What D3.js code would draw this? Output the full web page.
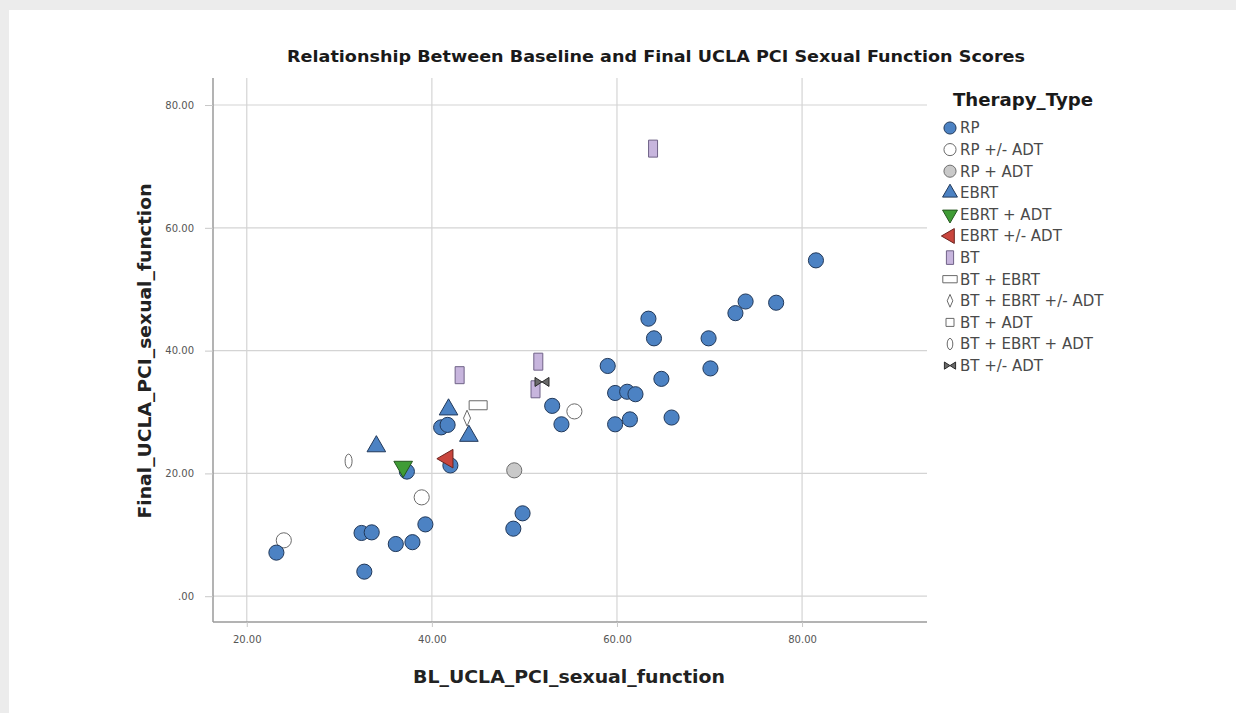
<!DOCTYPE html>
<html lang="en">
<head>
<meta charset="UTF-8">
<title>Baseline vs Final UCLA PCI Sexual Function</title>
<script src="https://cdn.jsdelivr.net/npm/d3@7"></script>
<style>
  body { margin: 0; background: #ececec; }
  svg { display: block; font-family: "DejaVu Sans", "Liberation Sans", Arial, sans-serif; }
</style>
</head>
<body>
<svg id="chart" width="1236" height="713"></svg>
<script>
// categories (legend order)
var therapyTypes = ["RP", "RP +/- ADT", "RP + ADT", "EBRT", "EBRT + ADT", "EBRT +/- ADT",
  "BT", "BT + EBRT", "BT + EBRT +/- ADT", "BT + ADT", "BT + EBRT + ADT", "BT +/- ADT"];

// points (x = baseline, y = final, type = index into therapyTypes)
var blScores    = [24.0, 38.9, 55.4,
  23.2, 32.4, 33.5, 32.7, 36.1, 37.9, 39.3, 37.3, 41.0, 41.7, 42.0, 48.8, 49.8, 53.0, 54.0,
  59.0, 59.8, 61.1, 62.0, 59.8, 61.4, 64.8, 65.9, 63.4, 64.0, 69.9, 70.1, 72.8, 73.9, 77.2, 81.5,
  48.9, 34.0, 41.8, 44.0, 36.9, 41.7, 63.9, 43.0, 51.5, 51.2, 45.0, 43.8, 31.0, 51.9];
var finalScores = [9.1, 16.1, 30.1,
  7.1, 10.3, 10.4, 4.0, 8.5, 8.8, 11.7, 20.3, 27.5, 27.9, 21.3, 11.0, 13.5, 31.0, 28.0,
  37.5, 33.1, 33.3, 32.9, 28.0, 28.8, 35.4, 29.1, 45.2, 42.0, 42.0, 37.1, 46.1, 48.0, 47.8, 54.7,
  20.5, 24.4, 30.4, 26.1, 21.1, 22.4, 72.9, 36.0, 38.2, 33.7, 31.1, 29.0, 22.0, 34.9];
var pointTypes  = [1, 1, 1,
  0, 0, 0, 0, 0, 0, 0, 0, 0, 0, 0, 0, 0, 0, 0,
  0, 0, 0, 0, 0, 0, 0, 0, 0, 0, 0, 0, 0, 0, 0, 0,
  2, 3, 3, 3, 4, 5, 6, 6, 6, 6, 7, 8, 10, 11];

var xTickValues = [20, 40, 60, 80];
var xTickLabels = ["20.00", "40.00", "60.00", "80.00"];
var yTickValues = [0, 20, 40, 60, 80];
var yTickLabels = [".00", "20.00", "40.00", "60.00", "80.00"];

var svg = d3.select("#chart");

// white panel
svg.append("rect").attr("x", 9).attr("y", 10).attr("width", 1227).attr("height", 703).attr("fill", "#fff");

var plot = { left: 213, right: 927, top: 78, bottom: 622 };

var x = d3.scaleLinear().domain([16.35, 93.5]).range([plot.left, plot.right]);
var y = d3.scaleLinear().domain([-4.2, 84.4]).range([plot.bottom, plot.top]);

// grid
var grid = svg.append("g").attr("stroke", "#d4d4d4").attr("stroke-width", 1.2);
grid.selectAll("line.gx").data(xTickValues).enter().append("line")
  .attr("x1", function(d) { return x(d); }).attr("x2", function(d) { return x(d); })
  .attr("y1", plot.top).attr("y2", plot.bottom);
grid.selectAll("line.gy").data(yTickValues).enter().append("line")
  .attr("x1", plot.left).attr("x2", plot.right)
  .attr("y1", function(d) { return y(d); }).attr("y2", function(d) { return y(d); });

// axes
var xAxis = d3.axisBottom(x).tickValues(xTickValues)
  .tickFormat(function(d, i) { return xTickLabels[i]; }).tickSize(5).tickSizeOuter(0);
var yAxis = d3.axisLeft(y).tickValues(yTickValues)
  .tickFormat(function(d, i) { return yTickLabels[i]; }).tickSize(8).tickSizeOuter(0);

var gx = svg.append("g").attr("transform", "translate(0," + plot.bottom + ")").call(xAxis);
var gy = svg.append("g").attr("transform", "translate(" + plot.left + ",0)").call(yAxis);
[gx, gy].forEach(function(g) {
  g.select(".domain").attr("stroke", "#9a9a9a").attr("stroke-width", 1.5);
  g.selectAll(".tick line").attr("stroke", "#c8c8c8");
  g.selectAll(".tick text").attr("fill", "#555").style("font-size", "10px")
    .style("font-family", "'DejaVu Sans', sans-serif");
});
gx.select(".domain").attr("d", "M" + plot.left + ",0H" + plot.right);
gy.select(".domain").attr("d", "M0," + plot.top + "V" + plot.bottom);
gx.selectAll(".tick text").attr("dy", "1.3em");
gy.selectAll(".tick text").attr("x", -19);

// marker shapes
var markerStyle = [
  { fill: "#4c82c3", stroke: "#22395a" },
  { fill: "#ffffff", stroke: "#6a6a6a" },
  { fill: "#c9c9c9", stroke: "#6e6e6e" },
  { fill: "#4c82c3", stroke: "#22395a" },
  { fill: "#3f9c35", stroke: "#25561f" },
  { fill: "#c9453d", stroke: "#6b2420" },
  { fill: "#c7b5dd", stroke: "#6f6287" },
  { fill: "#ffffff", stroke: "#6a6a6a" },
  { fill: "#ffffff", stroke: "#6a6a6a" },
  { fill: "#ffffff", stroke: "#6a6a6a" },
  { fill: "#ffffff", stroke: "#6a6a6a" },
  { fill: "#6a6a6a", stroke: "#2a2a2a" }
];

function markerPath(t, s) {
  var tri = d3.symbol(d3.symbolTriangle, 150 * s * s)();
  var rect = function(w, h) {
    w *= s; h *= s;
    return "M" + (-w / 2) + "," + (-h / 2) + "h" + w + "v" + h + "h" + (-w) + "Z";
  };
  switch (t) {
    case 0: case 1: case 2: return d3.symbol(d3.symbolCircle, 180 * s * s)();
    case 3: case 4: case 5: return tri; // 4 and 5 get rotated
    case 6: return rect(9, 17);
    case 7: return rect(18, 9);
    case 8: return "M0," + (-8 * s) + "L" + (3.5 * s) + ",0L0," + (8 * s) + "L" + (-3.5 * s) + ",0Z";
    case 9: return rect(10, 10);
    case 10:
      var rx = 3.5 * s, ry = 7 * s;
      return "M0," + (-ry) + "A" + rx + "," + ry + " 0 1,1 0," + ry + "A" + rx + "," + ry + " 0 1,1 0," + (-ry) + "Z";
    case 11:
      var a = 7 * s, b = 4.5 * s;
      return "M" + (-a) + "," + (-b) + "L0,0L" + (-a) + "," + b + "Z M" + a + "," + (-b) + "L0,0L" + a + "," + b + "Z";
  }
}
function markerRotate(t) { return t === 4 ? 180 : (t === 5 ? -90 : 0); }

var points = d3.range(blScores.length).map(function(i) {
  return { bl: blScores[i], fin: finalScores[i], type: pointTypes[i] };
});

svg.append("g").selectAll("path").data(points).enter().append("path")
  .attr("d", function(d) { return markerPath(d.type, 1); })
  .attr("transform", function(d) {
    return "translate(" + x(d.bl) + "," + y(d.fin) + ") rotate(" + markerRotate(d.type) + ")";
  })
  .attr("fill", function(d) { return markerStyle[d.type].fill; })
  .attr("stroke", function(d) { return markerStyle[d.type].stroke; })
  .attr("stroke-width", 1);

// title and axis titles
svg.append("text").attr("x", 656).attr("y", 62).attr("text-anchor", "middle")
  .attr("textLength", 738).attr("lengthAdjust", "spacingAndGlyphs")
  .style("font-size", "15px").style("font-weight", "bold").attr("fill", "#1a1a1a")
  .text("Relationship Between Baseline and Final UCLA PCI Sexual Function Scores");
svg.append("text").attr("x", 569).attr("y", 683).attr("text-anchor", "middle")
  .attr("textLength", 312).attr("lengthAdjust", "spacingAndGlyphs")
  .style("font-size", "17px").style("font-weight", "bold").attr("fill", "#222")
  .text("BL_UCLA_PCI_sexual_function");
svg.append("text").attr("transform", "translate(151,351) rotate(-90)").attr("text-anchor", "middle")
  .attr("textLength", 335).attr("lengthAdjust", "spacingAndGlyphs")
  .style("font-size", "17px").style("font-weight", "bold").attr("fill", "#222")
  .text("Final_UCLA_PCI_sexual_function");

// legend
var legend = svg.append("g");
legend.append("text").attr("x", 953).attr("y", 106)
  .attr("textLength", 140).attr("lengthAdjust", "spacingAndGlyphs")
  .style("font-size", "17px").style("font-weight", "bold").attr("fill", "#1a1a1a").text("Therapy_Type");
var items = legend.selectAll("g.item").data(therapyTypes).enter().append("g")
  .attr("transform", function(d, i) { return "translate(950," + (128 + i * 21.6) + ")"; });
items.append("path")
  .attr("d", function(d, i) { return markerPath(i, 0.8); })
  .attr("transform", function(d, i) { return "rotate(" + markerRotate(i) + ")"; })
  .attr("fill", function(d, i) { return markerStyle[i].fill; })
  .attr("stroke", function(d, i) { return markerStyle[i].stroke; });
items.append("text").attr("x", 10).attr("dy", "0.36em")
  .style("font-size", "15px").attr("fill", "#4a4a4a").text(function(d) { return d; });
</script>
</body>
</html>
